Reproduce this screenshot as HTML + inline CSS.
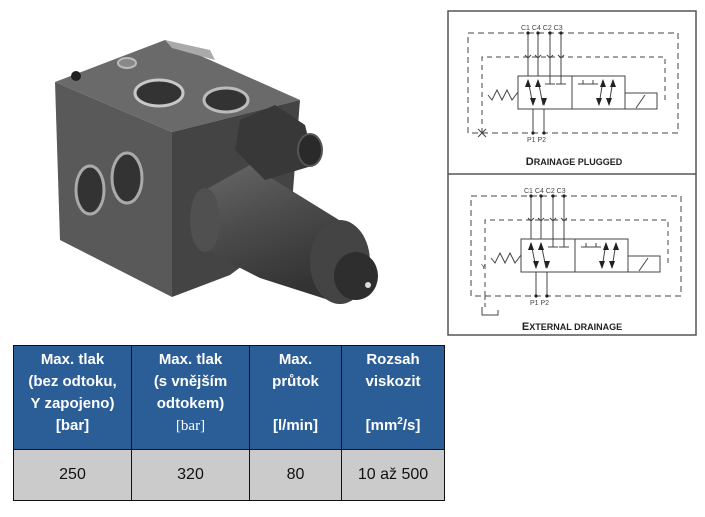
<!DOCTYPE html>
<html><head><meta charset="utf-8"><style>
body{margin:0;width:705px;height:517px;background:#fff;position:relative;overflow:hidden;font-family:"Liberation Sans",sans-serif}
table{position:absolute;left:13px;top:345px;border-collapse:collapse;font-family:"Liberation Sans",sans-serif}
td{border:1.5px solid #111;text-align:center;padding:0}
.h td{background:#2b5d97;color:#fff;font-weight:bold;font-size:15px;line-height:22px;height:100px;vertical-align:top;padding-top:3px}
.d td{background:#cbcbcb;color:#111;font-size:16px;height:50px}
</style></head><body>
<svg width="705" height="517" style="position:absolute;left:0;top:0">
<defs>
<linearGradient id="cyl" x1="0" y1="0" x2="0.4" y2="1"><stop offset="0" stop-color="#666"/><stop offset="0.5" stop-color="#4a4a4a"/><stop offset="1" stop-color="#333"/></linearGradient>
</defs>
<polygon points="55,82 165,40 300,100 172,132" fill="#6a6a6a"/>
<polygon points="55,82 172,132 172,297 60,240" fill="#595959"/>
<polygon points="172,132 300,100 290,230 230,275 172,297" fill="#444"/>
<polygon points="165,40 210,50 215,60 172,48" fill="#aaa"/>
<ellipse cx="127" cy="63" rx="9" ry="5" fill="#888" stroke="#bbb" stroke-width="2"/>
<circle cx="76" cy="76" r="5" fill="#222"/>
<ellipse cx="159" cy="93" rx="24" ry="13" fill="#333" stroke="#c8c8c8" stroke-width="3"/>
<ellipse cx="226" cy="100" rx="22" ry="12" fill="#333" stroke="#bbb" stroke-width="3"/>
<ellipse cx="90" cy="190" rx="14" ry="24" fill="#333" stroke="#aaa" stroke-width="3"/>
<ellipse cx="127" cy="178" rx="15" ry="25" fill="#333" stroke="#aaa" stroke-width="3"/>
<polygon points="205,190 250,165 352,228 335,302 260,278 205,250" fill="url(#cyl)"/>
<ellipse cx="205" cy="220" rx="15" ry="32" fill="#505050"/>
<ellipse cx="340" cy="262" rx="30" ry="42" fill="#444"/>
<ellipse cx="356" cy="276" rx="22" ry="24" fill="#2e2e2e"/>
<circle cx="368" cy="285" r="3" fill="#ddd"/>
<polygon points="240,120 275,105 305,125 315,165 265,180 235,150" fill="#383838"/>
<ellipse cx="310" cy="150" rx="12" ry="16" fill="#2a2a2a" stroke="#555" stroke-width="2"/>
<rect x="448" y="11" width="248" height="324" fill="#fff" stroke="#555" stroke-width="1.5"/>
<line x1="448" y1="174" x2="696" y2="174" stroke="#555" stroke-width="1.5"/>
<g id="sch" fill="none" stroke="#444" stroke-width="1">
<rect x="468" y="33" width="210" height="100" stroke-dasharray="6,4"/>
<path d="M482,133 V57 H665 V100" stroke-dasharray="5,4"/>
<rect x="518" y="76" width="107" height="33"/>
<line x1="572" y1="76" x2="572" y2="109"/>
<rect x="625" y="93" width="32" height="16"/>
<line x1="636" y1="108" x2="645" y2="95"/>
<polyline points="488,95 492,100 497,90 502,100 507,90 512,100 518,92"/>
<line x1="528" y1="33" x2="528" y2="76"/><line x1="538" y1="33" x2="538" y2="76"/>
<line x1="550" y1="33" x2="550" y2="84"/><line x1="561" y1="33" x2="561" y2="84"/>
<line x1="545" y1="84" x2="555" y2="84"/><line x1="556" y1="84" x2="566" y2="84"/>
<line x1="578" y1="84" x2="588" y2="84"/><line x1="588" y1="84" x2="598" y2="84"/>
<line x1="583" y1="80" x2="583" y2="84"/><line x1="593" y1="80" x2="593" y2="84"/>
<line x1="528" y1="80" x2="533" y2="105"/><line x1="538" y1="80" x2="543" y2="105"/>
<line x1="599" y1="105" x2="603" y2="80"/><line x1="609" y1="105" x2="613" y2="80"/>
<line x1="533" y1="109" x2="533" y2="133"/><line x1="544" y1="109" x2="544" y2="133"/>
<path d="M525,55 l3,3 3,-3 M535,55 l3,3 3,-3 M547,55 l3,3 3,-3 M558,55 l3,3 3,-3"/>
</g>
<g fill="#222">
<polygon points="528,79 525,87 531,87"/><polygon points="538,79 535,87 541,87"/>
<polygon points="533,106 530,98 536,98"/><polygon points="544,106 541,98 547,98"/>
<polygon points="603,79 600,87 606,87"/><polygon points="613,79 610,87 616,87"/>
<polygon points="599,106 596,98 602,98"/><polygon points="609,106 606,98 612,98"/>
<circle cx="528" cy="33" r="1.6"/><circle cx="538" cy="33" r="1.6"/><circle cx="550" cy="33" r="1.6"/><circle cx="561" cy="33" r="1.6"/>
<circle cx="533" cy="133" r="1.6"/><circle cx="544" cy="133" r="1.6"/>
</g>
<g font-family="Liberation Sans,sans-serif" font-size="7" fill="#444">
<text x="521" y="30">C1 C4 C2 C3</text><text x="527" y="142">P1 P2</text>
</g>
<path d="M478,129 l8,8 M478,137 l8,-8" stroke="#444"/>
<text x="574" y="165" text-anchor="middle" font-size="11" font-weight="bold" fill="#222" font-family="Liberation Sans,sans-serif">D<tspan font-size="9">RAINAGE PLUGGED</tspan></text>
<use href="#sch" transform="translate(3,163)"/>
<g transform="translate(3,163)" fill="#222">
<polygon points="528,79 525,87 531,87"/><polygon points="538,79 535,87 541,87"/>
<polygon points="533,106 530,98 536,98"/><polygon points="544,106 541,98 547,98"/>
<polygon points="603,79 600,87 606,87"/><polygon points="613,79 610,87 616,87"/>
<polygon points="599,106 596,98 602,98"/><polygon points="609,106 606,98 612,98"/>
<circle cx="528" cy="33" r="1.6"/><circle cx="538" cy="33" r="1.6"/><circle cx="550" cy="33" r="1.6"/><circle cx="561" cy="33" r="1.6"/>
<circle cx="533" cy="133" r="1.6"/><circle cx="544" cy="133" r="1.6"/>
<text x="521" y="30" font-size="7" fill="#444" font-family="Liberation Sans,sans-serif">C1 C4 C2 C3</text>
<text x="527" y="142" font-size="7" fill="#444" font-family="Liberation Sans,sans-serif">P1 P2</text>
<text x="478" y="106" font-size="7" fill="#444" font-family="Liberation Sans,sans-serif">Y</text>
</g>
<path d="M485,296 V310" stroke="#444" fill="none" stroke-dasharray="4,3"/>
<path d="M482,307 v8 h16 v-5" stroke="#444" fill="none"/>
<text x="572" y="330" text-anchor="middle" font-size="11" font-weight="bold" fill="#222" font-family="Liberation Sans,sans-serif">E<tspan font-size="9">XTERNAL DRAINAGE</tspan></text>
</svg>
<table>
<tr class="h"><td style="width:117px">Max. tlak<br>(bez odtoku,<br>Y zapojeno)<br>[bar]</td><td style="width:117px">Max. tlak<br>(s vnějším<br>odtokem)<br><span style="font-family:'Liberation Serif',serif;font-weight:normal">[bar]</span></td><td style="width:91px">Max.<br>průtok<br><br>[l/min]</td><td style="width:102px">Rozsah<br>viskozit<br><br>[mm<sup style="font-size:10px;line-height:0">2</sup>/s]</td></tr>
<tr class="d"><td>250</td><td>320</td><td>80</td><td>10 až 500</td></tr>
</table>
</body></html>
